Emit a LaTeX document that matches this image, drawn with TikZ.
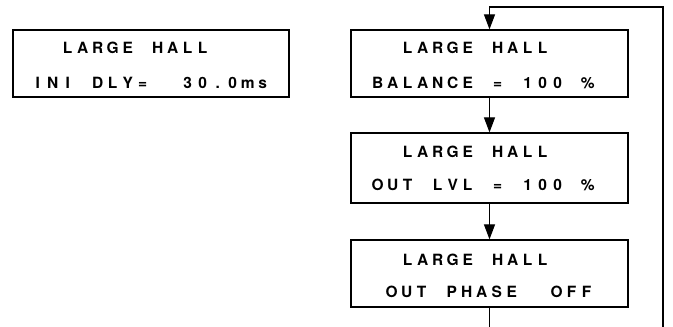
\documentclass[tikz,border=0pt]{standalone}
\usepackage{fontspec}
\setmainfont{TeX Gyre Heros}
\usetikzlibrary{arrows.meta}
\newcommand\lcdline[1]{\lcdA#1\relax}
\def\lcdA#1{\ifx#1\relax\else\makebox[15pt][c]{#1}\expandafter\lcdA\fi}
\tikzset{
  lcdbox/.style={draw, line width=1.2pt, rectangle, inner sep=0pt, minimum width=277pt},
  lcdtxt/.style={anchor=base west, inner sep=0pt, font=\fontsize{15.5}{15.5}\selectfont\bfseries},
  flow/.style={line width=1.1pt, -{Triangle[length=15pt,width=11pt]}},
  plain/.style={line width=1.1pt}
}
\begin{document}
\begin{tikzpicture}[x=1pt,y=-1pt]
\useasboundingbox (0,0) rectangle (673,327);
% boxes
\node[lcdbox, minimum width=276pt, minimum height=67pt] (L) at (151,63.5) {};
\node[lcdbox, minimum height=67pt] (R1) at (489.5,63.5) {};
\node[lcdbox, minimum height=70pt] (R2) at (489.5,168) {};
\node[lcdbox, minimum height=67pt] (R3) at (489.5,273.5) {};
% texts
\node[lcdtxt] (Lt1) at (30,53) {\lcdline{~~LARGE~HALL}};
\node[lcdtxt] (Lt2) at (30,88) {\lcdline{INI~DLY=~~30.0ms}};
\node[lcdtxt] (R1t1) at (370,53) {\lcdline{~~LARGE~HALL}};
\node[lcdtxt] (R1t2) at (370,88) {\lcdline{BALANCE~=~100~\%}};
\node[lcdtxt] (R2t1) at (370,157) {\lcdline{~~LARGE~HALL}};
\node[lcdtxt] (R2t2) at (370,190) {\lcdline{OUT~LVL~=~100~\%}};
\node[lcdtxt] (R3t1) at (370,265) {\lcdline{~~LARGE~HALL}};
\node[lcdtxt] (R3t2) at (369,297) {\lcdline{~OUT~PHASE~~OFF}};
% connectors
\coordinate (bot) at (489.5,327);
\coordinate (lb) at (663,327);
\coordinate (lt) at (663,7);
\coordinate (lm) at (489.5,7);
\draw[flow] (R1.south) -- (R2.north);
\draw[flow] (R2.south) -- (R3.north);
\draw[plain] (R3.south) -- (bot);
\draw[flow] (lb) -- (lt) -- (lm) -- (R1.north);
\end{tikzpicture}
\end{document}
